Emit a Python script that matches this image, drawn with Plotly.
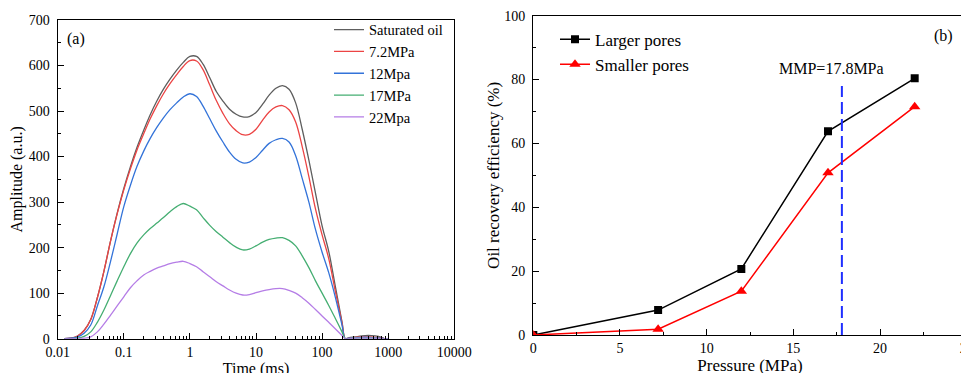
import plotly.graph_objects as go

# ---------------- Panel (a): NMR T2 spectra ----------------
time_ms = [0.0126, 0.0158, 0.02, 0.0251, 0.0316, 0.0398, 0.05, 0.0631, 0.0794, 0.1,
           0.126, 0.158, 0.2, 0.251, 0.316, 0.398, 0.5, 0.631, 0.794, 1,
           1.26, 1.58, 2, 2.51, 3.16, 3.98, 5, 6.31, 7.94, 10,
           12.6, 15.8, 20, 25.1, 31.6, 39.8, 50, 63.1, 79.4, 100,
           126, 158, 200, 224, 251, 316, 398, 501, 631, 794, 891, 1000]

amp_sat = [0, 1, 6, 18, 42, 90, 148, 215, 276, 330,
           378, 420, 458, 492, 522, 548, 570, 590, 607, 620,
           620, 603, 573, 543, 522, 504, 493, 487, 488, 497,
           515, 535, 550, 556, 548, 518, 460, 392, 320, 248,
           192, 116, 37, 0, 2, 4, 6, 7, 6, 3, 0, 0]
amp_72 = [0, 1, 6, 18, 42, 90, 148, 215, 274, 327,
          373, 414, 450, 483, 512, 538, 560, 580, 598, 611,
          610, 591, 557, 523, 495, 472, 457, 448, 449, 460,
          480, 498, 509, 512, 503, 476, 422, 356, 285, 228,
          176, 105, 35, 0, 1, 3, 4, 4, 3, 2, 0, 0]
amp_12 = [0, 1, 4, 12, 30, 72, 114, 170, 230, 290,
          337, 378, 412, 440, 464, 485, 503, 518, 531, 538,
          532, 511, 483, 456, 432, 410, 394, 386, 388, 398,
          414, 429, 437, 440, 432, 402, 352, 300, 240, 190,
          145, 92, 30, 0, 1, 2, 3, 3, 2, 1, 0, 0]
amp_17 = [0, 0, 1, 5, 15, 36, 63, 95, 127, 158,
          187, 210, 228, 242, 254, 266, 279, 290, 297, 291,
          283, 266, 249, 235, 223, 211, 201, 195, 197, 204,
          212, 218, 221, 222, 216, 204, 182, 156, 127, 100,
          73, 45, 15, 0, 0, 1, 1, 1, 1, 0, 0, 0]
amp_22 = [0, 0, 0, 1, 4, 15, 32, 52, 72, 92,
          112, 127, 140, 148, 155, 160, 165, 168, 170, 165,
          158, 147, 136, 125, 116, 107, 100, 96, 97, 101,
          105, 108, 110, 110, 106, 100, 90, 78, 64, 50,
          36, 22, 7, 0, 0, 1, 1, 1, 1, 0, 0, 0]

names_a = ["Saturated oil", "7.2MPa", "12Mpa", "17MPa", "22Mpa"]
colors_a = ["#5e5e5e", "#ec4444", "#3373d9", "#45ae72", "#b57de6"]

x_tickvals = [0.01, 0.1, 1, 10, 100, 1000, 10000]
x_ticktext = ["0.01", "0.1", "1", "10", "100", "1000", "10000"]

# ---------------- Panel (b): recovery vs pressure ----------------
pressure = [0, 7.2, 12, 17, 22]
larger_pores = [0, 7.8, 20.7, 63.8, 80.4]
smaller_pores = [0, 1.8, 13.7, 50.8, 71.5]
mmp_x = [17.8, 17.8]
mmp_y = [0, 78]

FONT = "Liberation Serif"
fig = go.Figure()

series_a = [amp_sat, amp_72, amp_12, amp_17, amp_22]
for ay, nm, col in zip(series_a, names_a, colors_a):
    fig.add_trace(go.Scatter(x=time_ms, y=ay, mode="lines", name=nm,
                             line=dict(color=col, width=1.3, shape="spline", smoothing=1.0),
                             xaxis="x", yaxis="y", legend="legend"))

fig.add_trace(go.Scatter(x=pressure, y=larger_pores, mode="lines+markers", name="Larger pores",
                         line=dict(color="black", width=1.5),
                         marker=dict(symbol="square", size=8, color="black"),
                         xaxis="x2", yaxis="y2", legend="legend2"))
fig.add_trace(go.Scatter(x=pressure, y=smaller_pores, mode="lines+markers", name="Smaller pores",
                         line=dict(color="#ff0000", width=1.5),
                         marker=dict(symbol="triangle-up", size=10, color="#ff0000"),
                         xaxis="x2", yaxis="y2", legend="legend2"))
fig.add_trace(go.Scatter(x=mmp_x, y=mmp_y, mode="lines", showlegend=False,
                         line=dict(color="#1f2fff", width=2, dash="12px,5px"),
                         xaxis="x2", yaxis="y2"))

W, H = 969, 373
OFF = 8  # page body margin offset

def px_x(p):
    return (p - OFF) / W

def px_y(p):
    return 1 - (p - OFF) / H

axis_common = dict(showline=True, linecolor="black", linewidth=1.3, mirror=True,
                   ticks="inside", ticklen=6, tickwidth=1.2, tickcolor="black",
                   showgrid=False, zeroline=False, automargin=False,
                   tickfont=dict(family=FONT, size=14, color="black"))
title_a = dict(family=FONT, size=16, color="black")
title_b = dict(family=FONT, size=17, color="black")

fig.update_layout(
    template="none",
    width=W, height=H, margin=dict(l=0, r=0, t=0, b=0, autoexpand=False),
    paper_bgcolor="white", plot_bgcolor="white",
    font=dict(family=FONT, color="black"),
    xaxis=dict(type="log", range=[-2, 4], domain=[px_x(57.7), px_x(454.3)],
               tickvals=x_tickvals, ticktext=x_ticktext,
               minor=dict(ticks="inside", ticklen=3, tickcolor="black", dtick="D1", showgrid=False),
               title=dict(text="Time (ms)", standoff=4, font=title_a), anchor="y", ticklabelstandoff=0,
               **axis_common),
    yaxis=dict(range=[0, 700], domain=[px_y(338.7), px_y(20)], dtick=100,
               minor=dict(ticks="inside", ticklen=3, tickcolor="black", dtick=50, showgrid=False),
               title=dict(text="Amplitude (a.u.)", standoff=6, font=title_a), anchor="x", ticklabelstandoff=4,
               **axis_common),
    xaxis2=dict(range=[0, 25], domain=[px_x(533.3), px_x(966.7)], dtick=5,
                minor=dict(ticks="inside", ticklen=3, tickcolor="black", dtick=2.5, showgrid=False),
                title=dict(text="Pressure (MPa)", standoff=3, font=title_b), anchor="y2", ticklabelstandoff=0,
                **axis_common),
    yaxis2=dict(range=[0, 100], domain=[px_y(335), px_y(15.7)], dtick=20,
                minor=dict(ticks="inside", ticklen=3, tickcolor="black", dtick=10, showgrid=False),
                title=dict(text="Oil recovery efficiency (%)", standoff=0, font=title_b), anchor="x2",
                ticklabelstandoff=4, **axis_common),
    legend=dict(x=321 / W, y=1 - 5.6 / H, xanchor="left", yanchor="top", bgcolor="rgba(0,0,0,0)",
                font=dict(family=FONT, size=14.5, color="black"), tracegroupgap=0),
    legend2=dict(x=547 / W, y=1 - 13.7 / H, xanchor="left", yanchor="top", bgcolor="rgba(0,0,0,0)",
                 font=dict(family=FONT, size=17, color="black"), tracegroupgap=0),
    showlegend=True,
    annotations=[
        dict(text="(a)", xref="x domain", yref="y domain", x=0.046, y=0.940, showarrow=False,
             xanchor="center", yanchor="middle", font=dict(family=FONT, size=16, color="black")),
        dict(text="(b)", xref="x2 domain", yref="y2 domain", x=0.9465, y=0.936, showarrow=False,
             xanchor="center", yanchor="middle", font=dict(family=FONT, size=16, color="black")),
        dict(text="MMP=17.8MPa", xref="x2", yref="y2", x=17.2, y=83.5, showarrow=False,
             xanchor="center", yanchor="middle", font=dict(family=FONT, size=16, color="black")),
    ],
)

fig.write_html("out.html")
